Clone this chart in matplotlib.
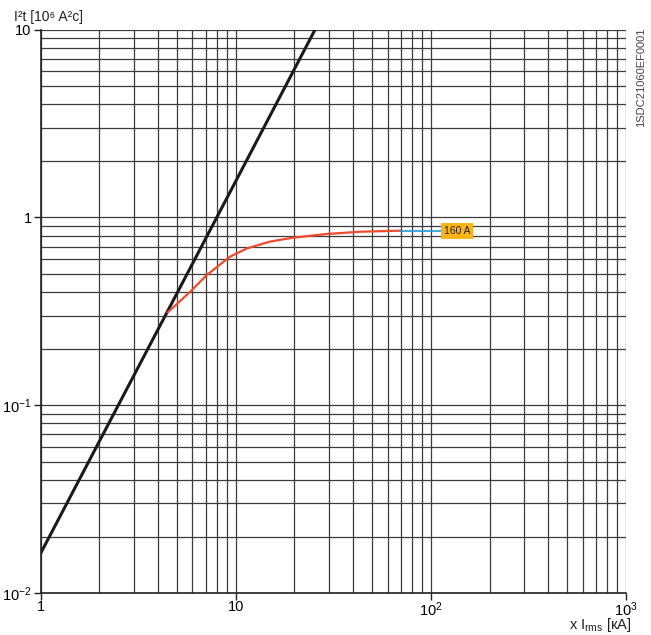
import numpy as np
import matplotlib.pyplot as plt
from matplotlib.ticker import LogLocator, NullFormatter

plt.rcParams['font.family'] = ['Liberation Sans', 'DejaVu Sans']
plt.rcParams['mathtext.fontset'] = 'custom'
plt.rcParams['mathtext.rm'] = 'Liberation Sans'
plt.rcParams['mathtext.it'] = 'Liberation Sans'

# let-through energy limit line (black)
limit_x = [1, 10, 25.5]
limit_y = [0.0163, 1.56, 10.0]

# 160 A fuse curve (red)
fuse_x = [4.49, 5.82, 7.09, 9.34, 11.4, 15.0, 19.7, 29.2, 43.3, 69.5]
fuse_y = [0.313, 0.401, 0.493, 0.618, 0.684, 0.744, 0.780, 0.816, 0.839, 0.85]
fuse_label = "160 A"
leader_x = [69.5, 114]

xticks = [1, 10, 100, 1000]
xticklabels = ['1', '10', '$10^2$', '$10^3$']
yticks = [0.01, 0.1, 1, 10]
yticklabels = ['$10^{-2}$', '$10^{-1}$', '1', '10']

fig = plt.figure(figsize=(6.51, 6.35), dpi=100)
ax = fig.add_axes([0.0625, 0.066, 0.899, 0.8874])
ax.set_xscale('log')
ax.set_yscale('log')
ax.set_xlim(1, 1000)
ax.set_ylim(0.01, 10)

ax.xaxis.set_minor_locator(LogLocator(base=10, subs=np.arange(2, 10)))
ax.yaxis.set_minor_locator(LogLocator(base=10, subs=np.arange(2, 10)))
ax.xaxis.set_minor_formatter(NullFormatter())
ax.yaxis.set_minor_formatter(NullFormatter())
ax.grid(True, which='both', color='#3c3c3c', linewidth=0.9)
ax.set_axisbelow(True)

ax.plot(limit_x, limit_y, color='#1a1a1a', linewidth=2.2, zorder=3)
ax.plot(fuse_x, fuse_y, color='#f04a2a', linewidth=1.6, zorder=4)
ax.plot(leader_x, [fuse_y[-1]] * 2, color='#1e9bd7', linewidth=1.2, zorder=4)
ax.text(leader_x[-1] * 1.02, fuse_y[-1], fuse_label, fontsize=7.5, ha='left', va='center',
        color='#222222', zorder=5,
        bbox=dict(boxstyle='square,pad=0.3', facecolor='#fdb515', edgecolor='none'))

ax.set_xticks(xticks)
ax.set_xticklabels(xticklabels, fontsize=10.5)
ax.set_yticks(yticks)
ax.set_yticklabels(yticklabels, fontsize=10.5)
ax.tick_params(which='major', length=5, width=1, color='#222222', pad=1.5)
ax.tick_params(axis='x', which='major', pad=0)
ax.tick_params(which='minor', length=0)
for s in ['top', 'right']:
    ax.spines[s].set_visible(False)
for s in ['left', 'bottom']:
    ax.spines[s].set_color('#222222')
    ax.spines[s].set_linewidth(1.2)

fig.text(0.021, 0.985, 'I²t [10⁶ A²c]', fontsize=10, ha='left', va='top', color='#222222')
fig.text(0.969, 0.001, 'x I$_{\\mathrm{rms}}$ [кA]', fontsize=10.5, ha='right', va='bottom', color='#222222')
fig.text(0.985, 0.957, '1SDC21060EF0001', fontsize=8, rotation=90, ha='center', va='top', color='#444444')

fig.savefig('out.png', dpi=100)
